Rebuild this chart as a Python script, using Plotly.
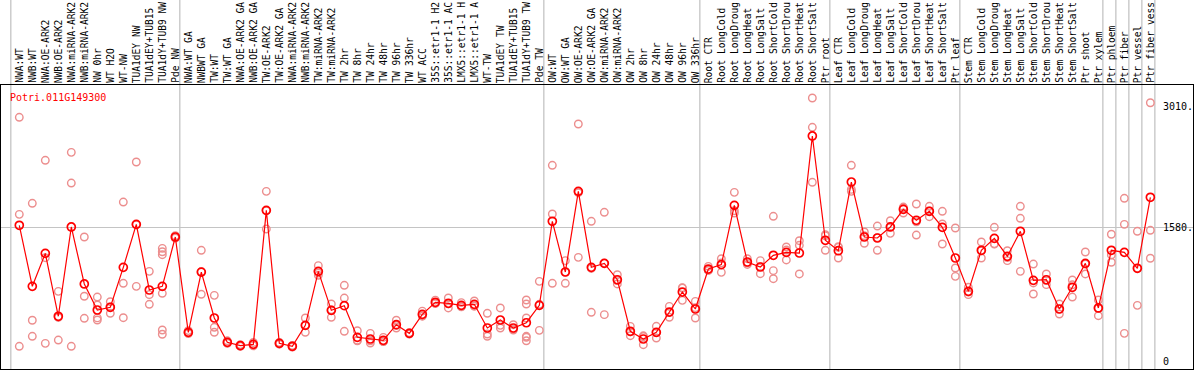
import plotly.graph_objects as go

# ---------------- data ----------------
title_text = "Potri.011G149300"

labels = [
    "NWA:WT", "NWB:WT", "NWA:OE-ARK2", "NWB:OE-ARK2", "NWA:miRNA-ARK2", "NWB:miRNA-ARK2",
    "NW 0hr", "WT H2O", "WT-NW", "TUA1dEY NW", "TUA1dEY+TUB15 NW", "TUA1dY+TUB9 NW", "Pde NW",
    "NWA:WT GA", "NWBWT GA", "TW:WT", "TW:WT GA", "NWA:OE-ARK2 GA", "NWB:OE-ARK2 GA",
    "TW:OE-ARK2", "TW:OE-ARK2 GA", "NWA:miRNA-ARK2 GA", "NWB:miRNA-ARK2 GA", "TW:miRNA-ARK2",
    "TW:miRNA-ARK2 GA", "TW 2hr", "TW 8hr", "TW 24hr", "TW 48hr", "TW 96hr", "TW 336hr",
    "WT ACC", "35S::etr1-1 H2O", "35S::etr1-1 ACC", "LMX5::etr1-1 H2O", "LMX5::etr1-1 ACC",
    "WT-TW", "TUA1dEY TW", "TUA1dEY+TUB15 TW", "TUA1dY+TUB9 TW", "Pde TW",
    "OW:WT", "OW:WT GA", "OW:OE-ARK2", "OW:OE-ARK2 GA", "OW:miRNA-ARK2", "OW:miRNA-ARK2 GA",
    "OW 2hr", "OW 8hr", "OW 24hr", "OW 48hr", "OW 96hr", "OW 336hr",
    "Root CTR", "Root LongCold", "Root LongDrought", "Root LongHeat", "Root LongSalt",
    "Root ShortCold", "Root ShortDrought", "Root ShortHeat", "Root ShortSalt", "Ptr root",
    "Leaf CTR", "Leaf LongCold", "Leaf LongDrought", "Leaf LongHeat", "Leaf LongSalt",
    "Leaf ShortCold", "Leaf ShortDrought", "Leaf ShortHeat", "Leaf ShortSalt", "Ptr leaf",
    "Stem CTR", "Stem LongCold", "Stem LongDrought", "Stem LongHeat", "Stem LongSalt",
    "Stem ShortCold", "Stem ShortDrought", "Stem ShortHeat", "Stem ShortSalt", "Ptr shoot",
    "Ptr xylem", "Ptr phloem", "Ptr fiber", "Ptr vessel", "Ptr fiber vessel",
]

means = [
    1612, 892, 1281, 539, 1592, 920, 613, 645, 1116, 1623, 849, 892, 1474,
    350, 1060, 519, 232, 193, 208, 1788, 220, 185, 432, 1069, 609, 664, 291, 271, 256, 440,
    338, 562, 704, 692, 668, 680, 401, 495, 401, 463, 668,
    1659, 1061, 2012, 1116, 1163, 970, 362, 271, 350, 589, 825, 625,
    1096, 1148, 1847, 1179, 1120, 1258, 1293, 1285, 2665, 1435,
    1312, 2122, 1474, 1462, 1592, 1800, 1671, 1777, 1588, 1226,
    833, 1317, 1458, 1246, 1541, 963, 970, 625, 881, 1163, 637,
    1317, 1293, 1105, 1942,
]

replicates = [
    [2885, 1741, 185], [1871, 492, 303], [2378, 1230, 220], [833, 259, 525],
    [2472, 2110, 185], [1474, 775, 515], [766, 672, 520, 495], [711, 574, 650],
    [1886, 928, 522], [2358, 892, 1619], [1069, 794, 680],
    [1340, 1300, 1265, 810, 377, 327], [1480, 1460, 1490],
    [370, 335, 345], [1317, 798, 1065], [786, 409, 350], [250, 220, 225],
    [205, 185, 190], [230, 190, 205], [2012, 1568, 1784], [230, 210, 220],
    [195, 175, 185], [519, 350, 430], [1136, 1022, 1050], [684, 527, 615],
    [904, 754, 362], [369, 256, 250], [338, 224, 250], [290, 240, 240],
    [492, 400, 430], [345, 330, 340], [600, 540, 545], [730, 690, 690],
    [755, 637, 685], [700, 650, 655], [720, 660, 660], [574, 330, 303],
    [637, 432, 401], [440, 377, 390], [731, 684, 519, 303, 291, 250], [951, 373, 680],
    [2319, 1745, 928], [1195, 928, 1061], [2806, 1234, 1996], [1659, 586, 1103],
    [1765, 558, 1166], [1029, 920, 961], [420, 310, 356], [300, 204, 309],
    [421, 283, 346], [656, 527, 584], [872, 727, 876], [715, 519, 641],
    [1128, 1080, 1080], [1218, 1057, 1169], [2000, 1757, 1784], [1218, 1150, 1169],
    [1195, 1041, 1124], [1718, 1077, 982], [1356, 1203, 1320], [1430, 1376, 1038],
    [3113, 2767, 2119], [1501, 1317, 1487],
    [1359, 1226, 1351], [2319, 2012, 2035], [1533, 1400, 1489], [1603, 1317, 1466],
    [1666, 1517, 1593], [1827, 1757, 1816], [1863, 1497, 1653], [1836, 1713, 1782],
    [1777, 1627, 1391], [1580, 1108, 1010],
    [881, 794, 824], [1415, 1226, 1310], [1588, 1395, 1391], [1312, 1195, 1231],
    [1836, 1694, 1069], [1155, 802, 932], [1038, 912, 960], [684, 566, 625],
    [967, 766, 910], [1297, 1038, 1154], [731, 546, 634],
    [1506, 1262, 1176], [1930, 1623, 338], [1541, 668, 1106], [3057, 1553, 1223],
]

group_starts = [0, 13, 41, 53, 63, 73, 84, 85, 86, 87, 88]
y_tick_vals = [0, 1580, 3010]
y_tick_text = ["0", "1580.", "3010."]
label_max_chars = 14  # the reference shows only the first 14 characters

# ---------------- layout constants ----------------
W, H = 1194, 370
ML, MR, MT, MB = 1, 1, 85, 1
X_RANGE = [-1.408, 90.28]
Y_RANGE = [-82.6, 3266.0]
FONT = "DejaVu Sans Mono"
plot_w = W - ML - MR
plot_h = H - MT - MB


def x_to_paper(xv):
    return (xv - X_RANGE[0]) / (X_RANGE[1] - X_RANGE[0])


xs = list(range(len(labels)))
rep_x, rep_y = [], []
for i, vals in enumerate(replicates):
    for v in vals:
        rep_x.append(i)
        rep_y.append(v)

fig = go.Figure()
fig.add_trace(go.Scatter(
    x=rep_x, y=rep_y, mode="markers",
    marker=dict(symbol="circle-open", size=7.5, color="#ec8e8e", line=dict(width=1.4)),
    hoverinfo="skip", showlegend=False,
))
fig.add_trace(go.Scatter(
    x=xs, y=means, mode="lines+markers",
    line=dict(color="#ff0000", width=1.2),
    marker=dict(symbol="circle-open", size=8, color="#ff0000", line=dict(width=1.7)),
    showlegend=False,
))

shapes = []
top_paper = 1 + (MT + 2) / plot_h
for b in group_starts:
    px = x_to_paper(b - 0.654)
    shapes.append(dict(type="line", xref="paper", yref="paper", x0=px, x1=px,
                       y0=0, y1=top_paper, line=dict(color="#c4c4c4", width=1.3),
                       layer="below"))

annotations = []
for i, lab in enumerate(labels):
    annotations.append(dict(
        x=i, y=1, xref="x", yref="paper", text=lab[:label_max_chars], textangle=-90,
        xanchor="center", yanchor="bottom", yshift=0, showarrow=False,
        font=dict(family=FONT, size=9.6, color="#000000"),
    ))
for v, t in zip(y_tick_vals, y_tick_text):
    annotations.append(dict(
        x=(1161 - ML) / plot_w, y=v, xref="paper", yref="y", text=t,
        xanchor="left", yanchor="middle", showarrow=False,
        font=dict(family=FONT, size=10, color="#000000"),
    ))
annotations.append(dict(
    x=(8 - ML) / plot_w, y=(H - MB - 97) / plot_h, xref="paper", yref="paper",
    text=title_text, xanchor="left", yanchor="middle", showarrow=False,
    font=dict(family=FONT, size=10, color="#ff0000"),
))

fig.update_layout(
    width=W, height=H,
    margin=dict(l=ML, r=MR, t=MT, b=MB, pad=0),
    paper_bgcolor="white", plot_bgcolor="rgba(0,0,0,0)",
    shapes=shapes, annotations=annotations,
    xaxis=dict(range=X_RANGE, showgrid=False, zeroline=False, showticklabels=False,
               ticks="", showline=True, mirror=True, linecolor="black", linewidth=1),
    yaxis=dict(range=Y_RANGE, tickvals=[1580], showgrid=True, gridcolor="#c4c4c4",
               gridwidth=1.3, zeroline=False, showticklabels=False, ticks="",
               showline=True, mirror=True, linecolor="black", linewidth=1),
)

fig.write_html("out.html", config={"displayModeBar": False},
               post_script="document.body.style.margin='0';")
